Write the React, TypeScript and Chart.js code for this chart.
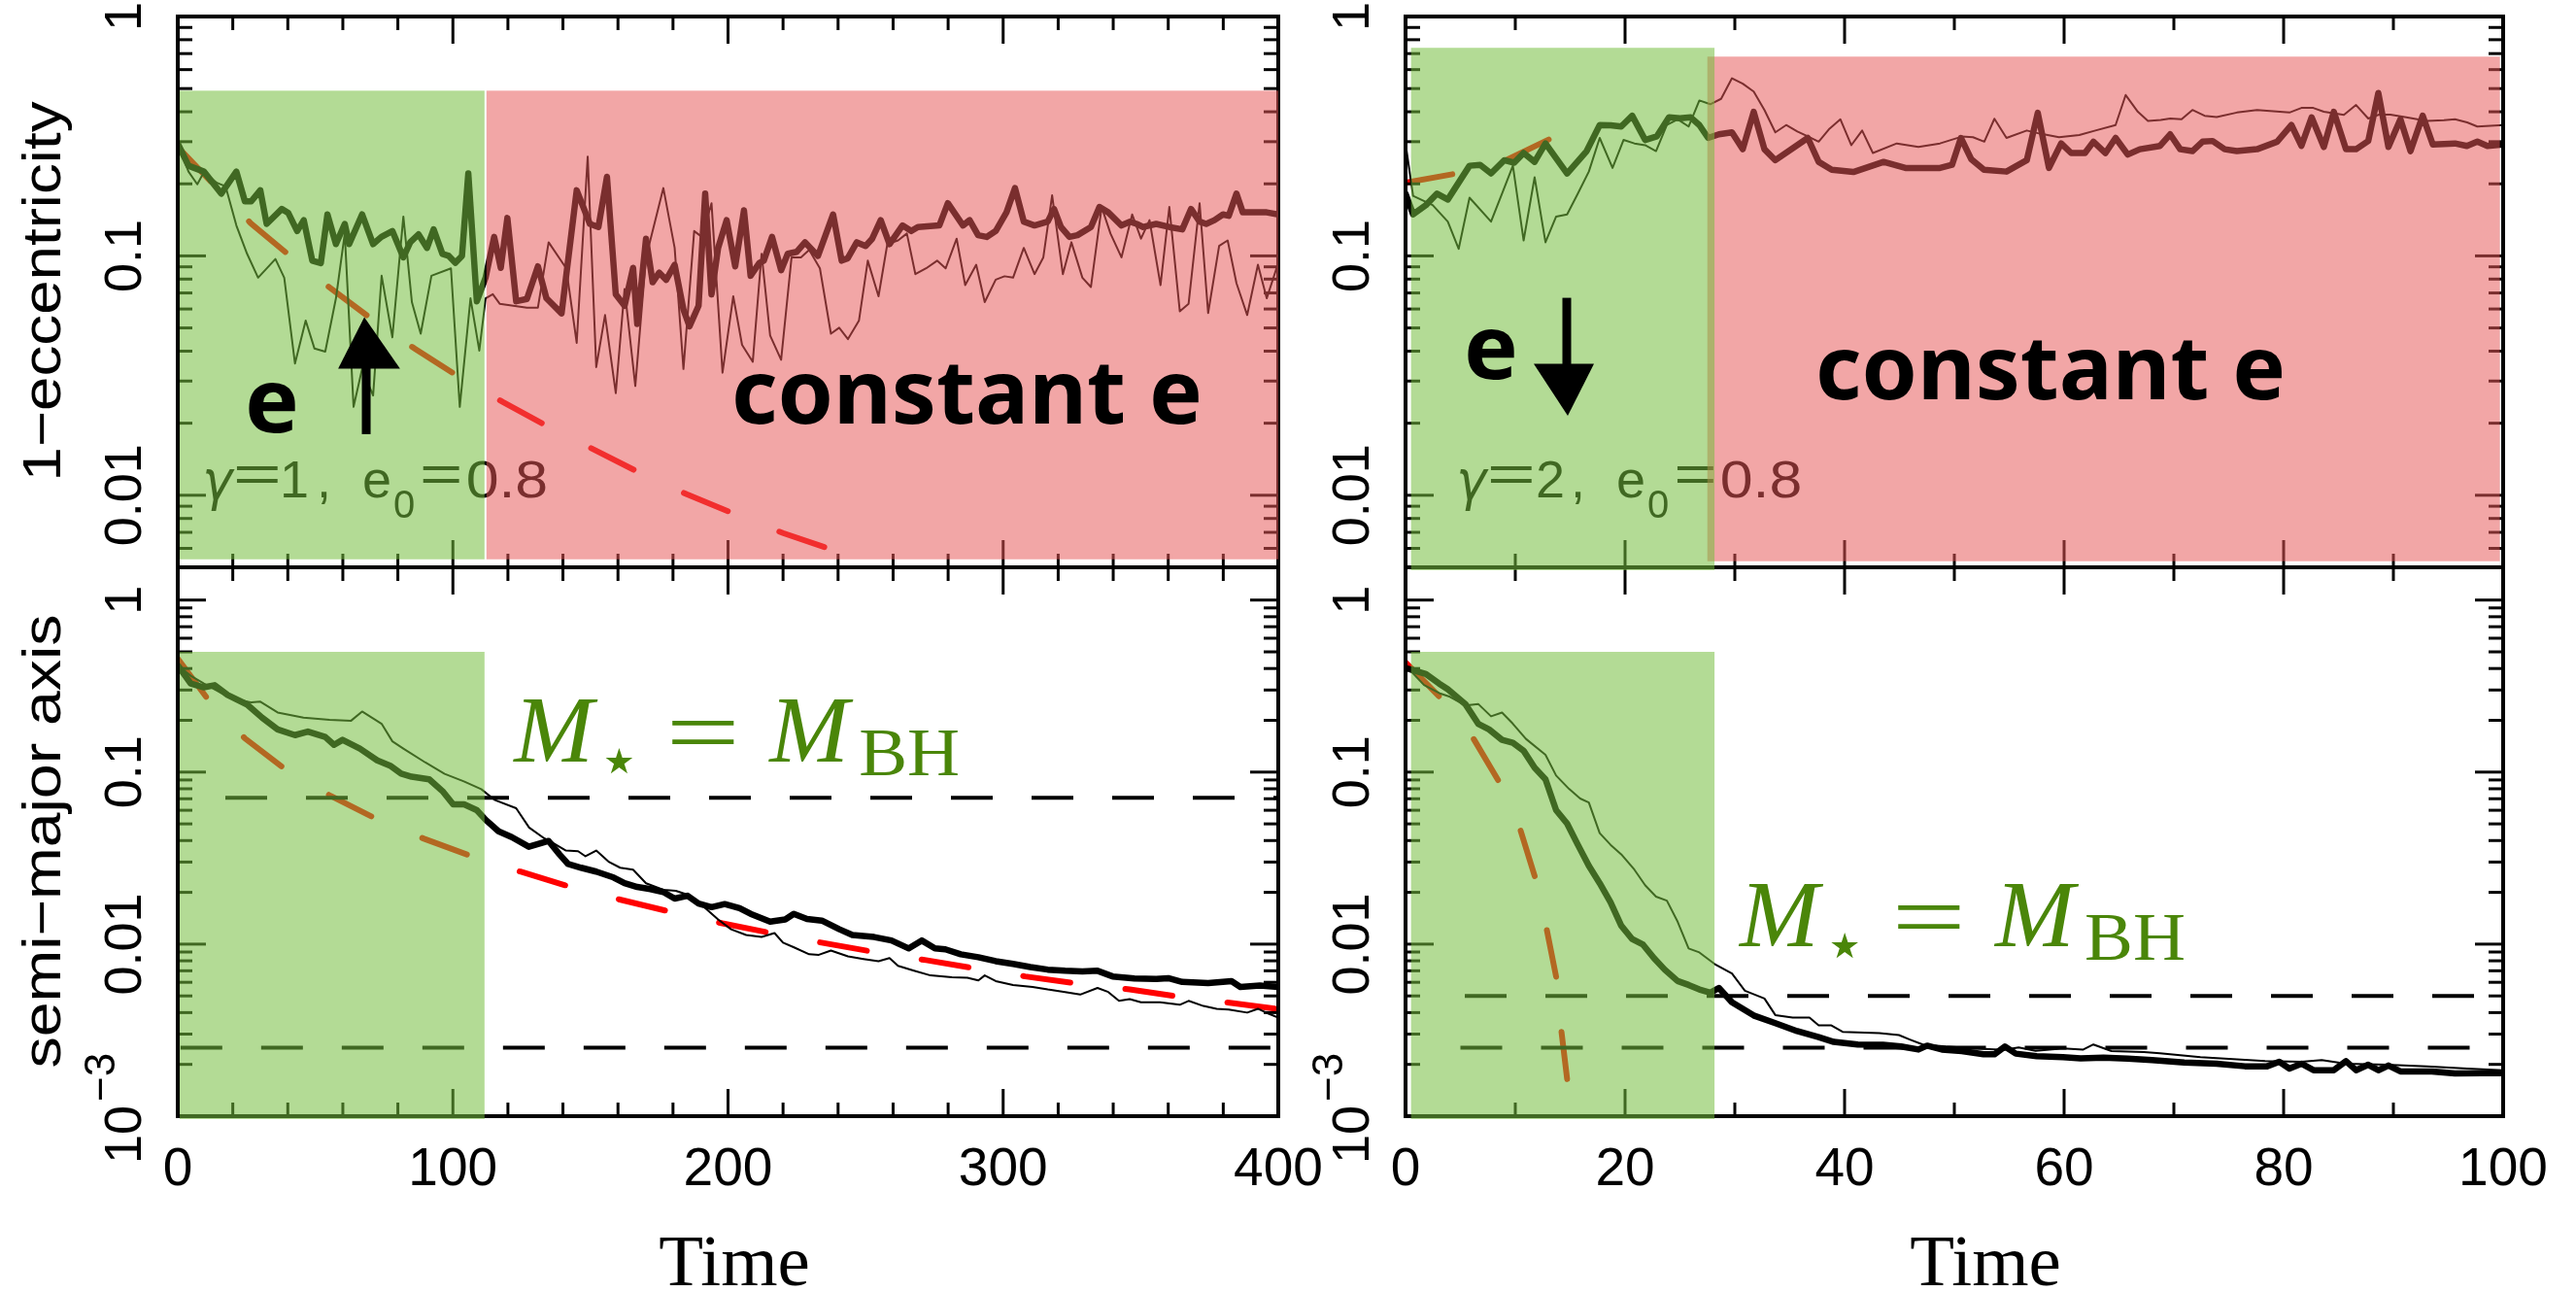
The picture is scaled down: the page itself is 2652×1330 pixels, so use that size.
import React, { useEffect, useRef } from "react";
import { Chart, registerables } from "chart.js";
Chart.register(...registerables);

type Pt = [number, number];

// ---------------- DATA (time, value) ----------------
// gamma=1 : 1-eccentricity
const ecc1Thick: Pt[] = [
  [0, 0.295], [3.9, 0.238], [9.5, 0.225], [15.8, 0.182], [21.3, 0.225], [24.4, 0.169], [26.7, 0.169], [30, 0.188],
  [32.3, 0.136], [37.8, 0.157], [40.2, 0.151], [43.4, 0.127], [45.8, 0.141], [48.9, 0.0955], [52, 0.0933], [54.4, 0.149],
  [57.5, 0.112], [60.7, 0.136], [62.3, 0.112], [67, 0.149], [71, 0.112], [74, 0.12], [78, 0.127], [82, 0.0986],
  [84.5, 0.114], [87.5, 0.123], [90.6, 0.108], [93, 0.129], [96.2, 0.102], [98.5, 0.1], [100.9, 0.0935], [103.3, 0.1],
  [105.6, 0.221], [108.7, 0.0646], [111.9, 0.0813], [115, 0.12], [117.4, 0.0891], [119.8, 0.144], [123, 0.0646],
  [126.9, 0.0661], [130.9, 0.0904], [134, 0.0665], [139.5, 0.0575], [145, 0.188], [149.8, 0.136], [152.9, 0.132],
  [156, 0.214], [159.2, 0.069], [162.4, 0.0619], [165.5, 0.0891], [167, 0.0519], [170.2, 0.118], [172.6, 0.0776],
  [175, 0.0851], [177.5, 0.0794], [180.6, 0.0918], [183.8, 0.0597], [186, 0.0508], [189.3, 0.0619], [191.7, 0.182],
  [194, 0.069], [196.4, 0.108], [199.5, 0.141], [202.6, 0.0904], [205.8, 0.155], [208.2, 0.0826], [211.4, 0.0935],
  [213, 0.0955], [216, 0.12], [219.3, 0.0871], [221.7, 0.102], [225, 0.104], [228, 0.114], [232.7, 0.1], [238.2, 0.149],
  [241.3, 0.0955], [243.5, 0.0977], [246.8, 0.114], [250, 0.11], [252.4, 0.118], [255.5, 0.141], [258.7, 0.112],
  [263.4, 0.134], [266.6, 0.127], [269, 0.132], [276.8, 0.134], [279.9, 0.166], [285.4, 0.134], [287.8, 0.141],
  [290.9, 0.122], [294, 0.12], [297.3, 0.127], [301.2, 0.152], [304.3, 0.192], [307.5, 0.139], [311.4, 0.134],
  [316.2, 0.139], [318.5, 0.157], [321, 0.132], [324.1, 0.12], [327, 0.122], [331.9, 0.132], [335, 0.16], [338.2, 0.152],
  [343, 0.134], [346.1, 0.139], [348.5, 0.136], [350.9, 0.132], [355.6, 0.136], [360.4, 0.132], [365.1, 0.129],
  [368.3, 0.157], [371.4, 0.139], [373.8, 0.136], [376.8, 0.141], [379.9, 0.149], [382, 0.147], [384.8, 0.182],
  [387.1, 0.152], [391.9, 0.152], [395.8, 0.152], [400, 0.149],
];
const ecc1Thin: Pt[] = [
  [0, 0.295], [3.9, 0.225], [7.1, 0.199], [9.5, 0.224], [14.2, 0.202], [17.4, 0.195], [21.3, 0.134], [25.2, 0.102],
  [29.2, 0.0811], [35.5, 0.097], [38.7, 0.0811], [42.6, 0.0355], [46.5, 0.0537], [49.7, 0.041], [53.6, 0.0398],
  [57.5, 0.0665], [60.7, 0.124], [63.9, 0.0234], [67, 0.0337], [71, 0.0261], [74.1, 0.0826], [78, 0.0457], [82, 0.146],
  [85.1, 0.0641], [88.3, 0.0473], [92.2, 0.0826], [99.3, 0.0887], [102.5, 0.0234], [106.4, 0.0665], [109.6, 0.0402],
  [111.9, 0.0665], [114.5, 0.0692], [117, 0.0631], [126.9, 0.0608], [130.9, 0.0608], [134.8, 0.114], [141.2, 0.0887],
  [145, 0.0433], [149, 0.26], [152.1, 0.0343], [155.3, 0.0566], [159.2, 0.0267], [162.4, 0.0728], [166.3, 0.0286],
  [170.2, 0.0986], [176.5, 0.192], [180.6, 0.108], [183.8, 0.0337], [187.7, 0.127], [190.5, 0.12], [194, 0.166],
  [198, 0.0325], [201.9, 0.0678], [205.1, 0.0425], [209, 0.0361], [212.2, 0.102], [215.3, 0.0465], [219.3, 0.0368],
  [223.1, 0.0986], [226.5, 0.0986], [229.5, 0.106], [233.4, 0.0887], [237.4, 0.0473], [240.4, 0.0501], [243.6, 0.0449],
  [247.6, 0.0537], [250.8, 0.0955], [254.7, 0.0678], [257.9, 0.112], [261.8, 0.116], [265, 0.124], [268.1, 0.0839],
  [272, 0.0887], [276, 0.0955], [279.1, 0.0887], [283.1, 0.118], [286.2, 0.0755], [290.2, 0.0918], [293.3, 0.0641],
  [297.3, 0.0796], [300.5, 0.0822], [303.6, 0.0811], [307.5, 0.108], [311.4, 0.0839], [314.6, 0.0986], [317.8, 0.179],
  [321.7, 0.0839], [324.8, 0.114], [328.8, 0.0811], [331.9, 0.0741], [335.8, 0.16], [339, 0.124], [343, 0.0986],
  [346.9, 0.149], [350.1, 0.118], [353.2, 0.141], [357.2, 0.0755], [360.4, 0.16], [364.2, 0.0587], [367.4, 0.0631],
  [371.4, 0.166], [374.5, 0.0577], [378.5, 0.11], [381.6, 0.116], [384.8, 0.0769], [388.7, 0.0566], [392.6, 0.0918],
  [395.8, 0.0665], [400, 0.0935],
];
const ecc1Model: Pt[] = [
  [0, 0.285], [26.5, 0.137], [41.3, 0.0989], [55.4, 0.0735], [71.2, 0.0537], [86.2, 0.0409], [102.5, 0.0311],
  [118.2, 0.0245], [135.5, 0.0191], [151.3, 0.0155], [168.6, 0.0123], [185, 0.0101], [203, 0.0083], [220, 0.00695],
  [239, 0.00586],
];
// gamma=1 : semi-major axis
const sma1Thick: Pt[] = [
  [0, 0.417], [4.7, 0.327], [9.5, 0.311], [13.4, 0.32], [18.1, 0.281], [25.2, 0.247], [30.7, 0.207], [36.3, 0.177],
  [42.6, 0.164], [47.3, 0.172], [53.6, 0.16], [56.8, 0.144], [59.9, 0.154], [66.2, 0.137], [72.5, 0.117], [77.2, 0.109],
  [81.2, 0.0979], [85, 0.094], [91.4, 0.0908], [96.2, 0.0776], [100.1, 0.0649], [104.1, 0.0649], [108.7, 0.0601],
  [111.9, 0.0528], [116.6, 0.0453], [121.4, 0.0419], [127.6, 0.0368], [134.8, 0.0398], [138.7, 0.0333], [141.9, 0.0292],
  [146.6, 0.0278], [152.1, 0.0264], [158.4, 0.0244], [162.4, 0.0226], [167, 0.0215], [171.8, 0.0209], [176.5, 0.0201],
  [180.6, 0.0184], [185.3, 0.0191], [189.3, 0.0172], [194, 0.0164], [198.8, 0.0171], [204.2, 0.0162], [208.2, 0.015],
  [215.3, 0.0135], [220.8, 0.0139], [223.9, 0.015], [228.7, 0.014], [234.1, 0.0137], [240.5, 0.0122], [245.2, 0.0113],
  [253.1, 0.011], [259.4, 0.0105], [265.7, 0.00944], [270.4, 0.0105], [275.2, 0.00944], [279, 0.00933], [284.6, 0.00873],
  [291, 0.00839], [297.3, 0.00796], [303.6, 0.00767], [309.9, 0.00736], [316.2, 0.00711], [322.5, 0.007], [328.8, 0.00693],
  [334.3, 0.007], [339.8, 0.00649], [347.7, 0.00632], [355.6, 0.00627], [360, 0.00634], [365.1, 0.00603], [374.5, 0.00593],
  [383, 0.0061], [386.2, 0.00564], [393.3, 0.00575], [400, 0.00564],
];
const sma1Thin: Pt[] = [
  [0, 0.417], [4.7, 0.363], [9.5, 0.327], [15.8, 0.288], [20.5, 0.267], [26.8, 0.254], [29.9, 0.257], [36.3, 0.222],
  [45.7, 0.207], [55.2, 0.201], [63, 0.199], [67, 0.225], [74.1, 0.191], [78, 0.151], [82, 0.137], [89.9, 0.114],
  [97, 0.0977], [104, 0.0883], [110.3, 0.0796], [115.1, 0.069], [123, 0.0617], [127.7, 0.0476], [133.2, 0.0412],
  [136.3, 0.0388], [141.1, 0.035], [145.5, 0.0347], [148.2, 0.0324], [152.1, 0.035], [156.8, 0.03], [160.8, 0.0278],
  [165.5, 0.0271], [170.2, 0.0226], [176.5, 0.0207], [181, 0.0204], [185.3, 0.0194], [190.1, 0.0171], [196.4, 0.0139],
  [201.1, 0.0122], [206.6, 0.0113], [212.2, 0.011], [216.9, 0.0116], [220, 0.0102], [224, 0.00957], [229.5, 0.00873],
  [233, 0.00867], [237.4, 0.00918], [243.6, 0.00849], [249.2, 0.0082], [254.7, 0.00796], [258.7, 0.0083], [261.8, 0.00748],
  [267.3, 0.00703], [273.6, 0.00658], [281.4, 0.00641], [287, 0.00637], [291, 0.00615], [293.3, 0.00658], [297.3, 0.0061],
  [303.6, 0.00579], [310.7, 0.00564], [316.2, 0.00545], [322.5, 0.00527], [328, 0.00509], [334.3, 0.00556], [338.2, 0.00527],
  [342.1, 0.00468], [346, 0.00479], [350.1, 0.00459], [357, 0.00459], [364.2, 0.00444], [367.4, 0.00468], [372.8, 0.00437],
  [377.6, 0.00421], [382, 0.00417], [388.7, 0.004], [392.6, 0.00421], [396.5, 0.00394], [400, 0.00374],
];
const sma1Model: Pt[] = [
  [0, 0.457], [11.8, 0.254], [24.4, 0.157], [39.7, 0.102], [55.5, 0.0728], [72.8, 0.0528], [89.5, 0.041], [108, 0.0319],
  [124.5, 0.0264], [143.7, 0.0213], [161, 0.0181], [180, 0.0153], [198, 0.0132], [216.8, 0.0115], [234, 0.0102],
  [254, 0.00895], [272, 0.00807], [291, 0.00718], [308, 0.00649], [328, 0.00587], [346, 0.00546], [365, 0.00492],
  [383, 0.00455], [400, 0.00419],
];
const sma1RefLevels = [0.0708, 0.0025];
const sma1RefStart = [17.3, 1];

// gamma=2 : 1-eccentricity
const ecc2Thick: Pt[] = [
  [0, 0.182], [0.69, 0.149], [1.86, 0.163], [2.87, 0.182], [3.85, 0.172], [5.83, 0.238], [6.8, 0.24], [7.79, 0.221],
  [8.99, 0.251], [9.9, 0.245], [10.76, 0.269], [11.76, 0.247], [12.75, 0.295], [14.72, 0.221], [16.5, 0.274],
  [17.69, 0.352], [18.7, 0.351], [19.65, 0.347], [20.65, 0.385], [21.83, 0.305], [22.9, 0.316], [24, 0.379], [25, 0.376],
  [25.98, 0.379], [26.77, 0.352], [27.57, 0.311], [28.55, 0.322], [29.74, 0.328], [30.72, 0.279], [31.72, 0.4],
  [32.7, 0.279], [33.69, 0.251], [36.65, 0.311], [37.64, 0.247], [38.83, 0.229], [40.8, 0.224], [43.56, 0.247],
  [45.55, 0.233], [48.69, 0.233], [49.79, 0.24], [50.6, 0.311], [51.55, 0.253], [52.7, 0.229], [54.75, 0.225],
  [56.6, 0.251], [57.6, 0.396], [58.62, 0.233], [59.73, 0.295], [60.64, 0.269], [61.9, 0.269], [62.67, 0.3],
  [63.77, 0.269], [64.69, 0.311], [65.8, 0.265], [66.9, 0.279], [68.74, 0.288], [69.66, 0.322], [70.58, 0.279],
  [71.69, 0.274], [72.61, 0.3], [73.53, 0.302], [74.63, 0.279], [75.74, 0.274], [77.58, 0.279], [79.41, 0.3],
  [80.71, 0.352], [81.62, 0.288], [82.55, 0.379], [83.66, 0.285], [84.57, 0.4], [85.68, 0.279], [86.6, 0.279],
  [87.71, 0.302], [88.63, 0.479], [89.55, 0.285], [90.64, 0.372], [91.56, 0.274], [92.67, 0.385], [93.59, 0.292],
  [95.61, 0.295], [96.7, 0.288], [97.65, 0.3], [98.56, 0.288], [100, 0.292],
];
const ecc2Thin: Pt[] = [
  [0, 0.295], [0.69, 0.178], [2.47, 0.163], [3.85, 0.139], [4.84, 0.107], [5.83, 0.175], [7.79, 0.139], [8.79, 0.182],
  [9.78, 0.238], [10.76, 0.116], [11.76, 0.213], [12.75, 0.114], [13.72, 0.146], [14.72, 0.149], [15.7, 0.182],
  [16.7, 0.225], [17.69, 0.311], [18.86, 0.233], [19.86, 0.305], [20.85, 0.295], [21.83, 0.29], [22.82, 0.274],
  [23.81, 0.352], [24.8, 0.372], [25.79, 0.347], [26.77, 0.446], [27.76, 0.43], [28.75, 0.453], [29.74, 0.552],
  [30.72, 0.524], [31.72, 0.486], [32.7, 0.407], [33.69, 0.328], [34.68, 0.352], [35.7, 0.331], [36.65, 0.316],
  [37.64, 0.3], [38.63, 0.34], [39.62, 0.372], [40.61, 0.29], [41.6, 0.334], [42.58, 0.269], [44.76, 0.295],
  [46.73, 0.285], [48.69, 0.295], [50.68, 0.315], [51.7, 0.313], [52.73, 0.3], [53.65, 0.374], [54.75, 0.311],
  [56.6, 0.334], [57.8, 0.324], [59.54, 0.313], [61.38, 0.32], [62.85, 0.334], [64.69, 0.352], [65.61, 0.47],
  [66.72, 0.4], [67.64, 0.366], [68.8, 0.37], [69.67, 0.375], [70.7, 0.372], [71.69, 0.407], [72.8, 0.385],
  [73.9, 0.38], [75.74, 0.397], [77.58, 0.407], [80.53, 0.397], [81.62, 0.415], [82.7, 0.415], [83.66, 0.4],
  [85.49, 0.388], [86.6, 0.427], [87.71, 0.375], [88.7, 0.389], [89.72, 0.389], [91.18, 0.379], [93.04, 0.366],
  [94.6, 0.369], [95.61, 0.372], [96.72, 0.361], [97.65, 0.347], [100, 0.352],
];
const ecc2Model: Pt[] = [[0, 0.202], [4.64, 0.221], [9.0, 0.249], [13.34, 0.311]];
// gamma=2 : semi-major axis
const sma2Thick: Pt[] = [
  [0, 0.403], [1.86, 0.372], [3.06, 0.327], [3.85, 0.303], [5.44, 0.249], [6.62, 0.191], [7.61, 0.177], [8.79, 0.154],
  [9.78, 0.148], [10.76, 0.133], [11.76, 0.106], [12.75, 0.0908], [13.72, 0.0601], [14.72, 0.0502], [15.7, 0.0378],
  [16.7, 0.0285], [17.69, 0.0226], [18.68, 0.0175], [19.65, 0.0128], [20.65, 0.0107], [21.64, 0.00993], [22.63, 0.0083],
  [23.61, 0.00711], [24.79, 0.0061], [25.79, 0.00579], [26.77, 0.00545], [27.76, 0.00522], [28.55, 0.00556],
  [29.74, 0.00459], [31.72, 0.00385], [33.69, 0.00347], [35.68, 0.00312], [37.64, 0.00288], [39.02, 0.0027],
  [41.2, 0.00261], [43.5, 0.0026], [45.15, 0.00254], [46.73, 0.00244], [47.52, 0.00257], [48.87, 0.00244],
  [50.68, 0.00239], [52.66, 0.00229], [53.65, 0.00229], [54.6, 0.00254], [55.6, 0.00231], [57.5, 0.00223],
  [59.9, 0.0022], [61.5, 0.00217], [63.59, 0.00219], [65.8, 0.00216], [68, 0.00212], [70.95, 0.00205], [73.89, 0.00202],
  [76.48, 0.00195], [78.5, 0.00195], [79.6, 0.00207], [80.53, 0.00189], [81.62, 0.00202], [82.73, 0.00185],
  [84.57, 0.00185], [85.68, 0.00209], [86.6, 0.00185], [87.71, 0.00199], [88.63, 0.00185], [89.55, 0.00197],
  [90.64, 0.00182], [93.5, 0.00182], [95.61, 0.00177], [98, 0.00178], [100, 0.00178],
];
const sma2Thin: Pt[] = [
  [0, 0.417], [1.68, 0.321], [3.06, 0.288], [4.05, 0.274], [5.44, 0.244], [6.62, 0.249], [7.79, 0.211], [8.79, 0.222],
  [9.78, 0.191], [10.97, 0.156], [12.75, 0.126], [13.72, 0.0955], [14.92, 0.0796], [15.91, 0.0702], [16.7, 0.0665],
  [17.69, 0.0442], [18.68, 0.0378], [19.65, 0.0333], [20.85, 0.0271], [21.83, 0.022], [22.82, 0.0189], [23.81, 0.0179],
  [24.79, 0.0135], [25.79, 0.00944], [26.77, 0.00895], [28.15, 0.00767], [29.74, 0.00675], [30.92, 0.00536],
  [32.7, 0.00483], [33.69, 0.00387], [35.27, 0.00374], [36.8, 0.00374], [37.64, 0.00337], [38.8, 0.00337],
  [39.82, 0.00309], [43.17, 0.00304], [44.95, 0.00296], [45.94, 0.00279], [47.13, 0.00261], [49.2, 0.00254],
  [51.87, 0.00248], [54.5, 0.00243], [55.86, 0.00251], [57.4, 0.0024], [59.9, 0.00248], [61.75, 0.00244],
  [62.67, 0.00261], [64.32, 0.00239], [67.28, 0.00236], [68.74, 0.00232], [72.42, 0.0022], [78.31, 0.00209],
  [81.62, 0.00207], [83.47, 0.00212], [85.68, 0.00202], [89.36, 0.00199], [93.04, 0.00195], [96.72, 0.00189],
  [100, 0.00185],
];
const sma2Model: Pt[] = [
  [0, 0.435], [3.26, 0.267], [6.1, 0.16], [8.6, 0.0861], [10.45, 0.0465], [11.86, 0.0238], [12.86, 0.0122],
  [13.8, 0.0061], [14.2, 0.00312], [14.76, 0.00157],
];
const sma2RefLevels = [0.005, 0.0025];
const sma2RefStart = [5.4, 5.0];

// ---------------- AXES / TICKS ----------------
const time1Major = [0, 100, 200, 300, 400];
const time1Minor = [20, 40, 60, 80, 120, 140, 160, 180, 220, 240, 260, 280, 320, 340, 360, 380];
const time1Labels = ["0", "100", "200", "300", "400"];
const time2Major = [0, 20, 40, 60, 80, 100];
const time2Minor = [10, 30, 50, 70, 90];
const time2Labels = ["0", "20", "40", "60", "80", "100"];
const eccTickValues = [1, 0.1, 0.01];
const eccTickLabels = ["1", "0.1", "0.01"];
const smaTickValues = [1, 0.1, 0.01, 0.001];
const smaTickLabels = ["1", "0.1", "0.01", "10|−3"];

const W = 2652;
const H = 1330;
const SANS = '"Liberation Sans", Arial, Helvetica, sans-serif';
const SERIF = '"Liberation Serif", "Times New Roman", serif';
const HAND = '"Noto Sans", "DejaVu Sans", sans-serif';
const GREEN_OV = "rgba(116,189,62,0.55)";
const RED_OV = "rgba(230,87,87,0.53)";
const TEXT_GREEN = "#4a8609";

function logMinor(min: number, max: number) {
  const out: number[] = [];
  for (let e = -4; e <= 1; e++) {
    for (let m = 2; m <= 9; m++) {
      const v = m * Math.pow(10, e);
      if (v > min * 1.0001 && v < max * 0.9999) out.push(v);
    }
  }
  return out;
}

function fitFill(ctx: CanvasRenderingContext2D, text: string, x: number, y: number, width: number) {
  const w = ctx.measureText(text).width;
  ctx.save();
  ctx.translate(x, y);
  ctx.scale(width / w, 1);
  ctx.textAlign = "left";
  ctx.fillText(text, 0, 0);
  ctx.restore();
}

// draw text so that its ink starts at x (and optionally spans inkW)
function inkFill(ctx: CanvasRenderingContext2D, text: string, x: number, y: number, inkW?: number) {
  const m = ctx.measureText(text);
  const ink = m.actualBoundingBoxLeft + m.actualBoundingBoxRight;
  const s = inkW ? inkW / ink : 1;
  ctx.save();
  ctx.translate(x, y);
  ctx.scale(s, 1);
  ctx.textAlign = "left";
  ctx.fillText(text, m.actualBoundingBoxLeft, 0);
  ctx.restore();
}

function rotText(ctx: CanvasRenderingContext2D, text: string, x: number, y: number, font: string, width?: number) {
  ctx.save();
  ctx.translate(x, y);
  ctx.rotate(-Math.PI / 2);
  ctx.font = font;
  ctx.textAlign = "center";
  ctx.textBaseline = "alphabetic";
  if (width) {
    const w = ctx.measureText(text).width;
    ctx.scale(width / w, 1);
  }
  ctx.fillText(text, 0, 0);
  ctx.restore();
}

function rotPow(ctx: CanvasRenderingContext2D, base: string, exp: string, x: number, y: number) {
  ctx.save();
  ctx.translate(x, y);
  ctx.rotate(-Math.PI / 2);
  ctx.textBaseline = "alphabetic";
  ctx.textAlign = "left";
  const fb = `54px ${SANS}`;
  const fe = `44px ${SANS}`;
  ctx.font = fb;
  const wb = ctx.measureText(base).width;
  ctx.font = fe;
  const we = ctx.measureText(exp).width;
  const total = wb + 4 + we;
  const start = -total / 2;
  ctx.font = fb;
  ctx.fillText(base, start, 0);
  ctx.font = fe;
  ctx.fillText(exp, start + wb + 4, -27);
  ctx.restore();
}

function drawGamma(ctx: CanvasRenderingContext2D, x0: number, y0: number, g: string) {
  ctx.fillStyle = "#000";
  ctx.textBaseline = "alphabetic";
  const f1 = `54px ${SANS}`;
  ctx.font = `italic 56px "DejaVu Sans", sans-serif`;
  inkFill(ctx, "γ", x0, y0 + 2, 30);
  ctx.font = f1;
  inkFill(ctx, "=", x0 + 31, y0 - 6, 43);
  inkFill(ctx, g, x0 + 80, y0);
  inkFill(ctx, ",", x0 + 118, y0);
  inkFill(ctx, "e", x0 + 163, y0);
  ctx.font = `40px ${SANS}`;
  inkFill(ctx, "0", x0 + 194, y0 + 21);
  ctx.font = f1;
  inkFill(ctx, "=", x0 + 223, y0 - 6, 38);
  inkFill(ctx, "0.8", x0 + 270, y0, 80);
}

function drawMstar(ctx: CanvasRenderingContext2D, x0: number, y0: number) {
  ctx.fillStyle = TEXT_GREEN;
  ctx.textBaseline = "alphabetic";
  ctx.textAlign = "left";
  ctx.font = `italic 98px ${SERIF}`;
  ctx.fillText("M", x0, y0);
  ctx.font = `36px "DejaVu Sans", sans-serif`;
  ctx.fillText("★", x0 + 92, y0 + 12);
  ctx.font = `98px ${SERIF}`;
  const m = ctx.measureText("=");
  const ink = m.actualBoundingBoxLeft + m.actualBoundingBoxRight;
  ctx.save();
  ctx.translate(x0 + 162, y0 + 2);
  ctx.scale(65 / ink, 1);
  ctx.fillText("=", m.actualBoundingBoxLeft, 0);
  ctx.restore();
  ctx.font = `italic 98px ${SERIF}`;
  ctx.fillText("M", x0 + 263, y0);
  ctx.font = `70px ${SERIF}`;
  fitFill(ctx, "BH", x0 + 355, y0 + 14, 104);
}

function drawHand(ctx: CanvasRenderingContext2D, text: string, x: number, y: number, width: number) {
  ctx.fillStyle = "#000";
  ctx.font = `bold 92px ${HAND}`;
  ctx.textBaseline = "alphabetic";
  fitFill(ctx, text, x, y, width);
}

type XF = (v: number) => number;

interface RectSpec { x0: number; x1: number; y0: number | null; y1: number; color: string }

interface PanelSpec {
  id: string;
  area: { left: number; top: number; right: number; bottom: number };
  xMin: number; xMax: number; yMin: number; yMax: number;
  xMajor: number[]; xMinor: number[]; xLabels: string[] | null;
  yTicks: number[]; yLabels: string[];
  yTitle?: { text: string; y: number; width: number };
  xTitle?: { x: number };
  datasets: any[];
  rects: RectSpec[];
  under?: (ctx: CanvasRenderingContext2D, X: XF, Y: XF) => void;
  over?: (ctx: CanvasRenderingContext2D, X: XF, Y: XF) => void;
}

const toXY = (pts: Pt[]) => pts.map(([x, y]) => ({ x, y }));

function lineSet(pts: Pt[], kind: "thick" | "thin" | "model") {
  if (kind === "model") {
    return {
      data: toXY(pts), borderColor: "#ff0000", borderWidth: 6, borderDash: [49, 57],
      borderCapStyle: "round", pointRadius: 0, tension: 0, fill: false,
    };
  }
  return {
    data: toXY(pts), borderColor: "#000", borderWidth: kind === "thick" ? 6.5 : 2,
    borderJoinStyle: "round", borderCapStyle: "round", pointRadius: 0, tension: 0, fill: false,
  };
}

function refSets(levels: number[], starts: number[], xMax: number) {
  return levels.map((lv, i) => ({
    data: [{ x: starts[i], y: lv }, { x: xMax, y: lv }],
    borderColor: "#000", borderWidth: 4, borderDash: [43, 40], borderCapStyle: "butt",
    pointRadius: 0, tension: 0, fill: false,
  }));
}

function arrowUp(ctx: CanvasRenderingContext2D, X: XF, Y: XF) {
  ctx.fillStyle = "#000";
  ctx.beginPath();
  ctx.moveTo(X(67.8), Y(0.0555));
  ctx.lineTo(X(80.8), Y(0.0338));
  ctx.lineTo(X(58.3), Y(0.0338));
  ctx.closePath();
  ctx.fill();
  const sx = X(68.5);
  ctx.fillRect(sx - 4.5, Y(0.0338) - 2, 9, Y(0.018) - Y(0.0338) + 2);
}

function arrowDown(ctx: CanvasRenderingContext2D, X: XF, Y: XF) {
  ctx.fillStyle = "#000";
  ctx.beginPath();
  ctx.moveTo(X(11.68), Y(0.0354));
  ctx.lineTo(X(17.17), Y(0.0354));
  ctx.lineTo(X(14.78), Y(0.0215));
  ctx.closePath();
  ctx.fill();
  const sx = X(14.69);
  ctx.fillRect(sx - 4.5, Y(0.0668), 9, Y(0.0354) - Y(0.0668) + 2);
}

const LEFT = { left: 183, right: 1316 };
const RIGHT = { left: 1447, right: 2577 };
const TOPROW = { top: 17, bottom: 584 };
const BOTROW = { top: 584, bottom: 1149 };

const panels: PanelSpec[] = [
  {
    id: "bl",
    area: { ...LEFT, ...BOTROW },
    xMin: 0, xMax: 400, yMin: 0.001, yMax: 1.55,
    xMajor: time1Major, xMinor: time1Minor, xLabels: time1Labels,
    yTicks: smaTickValues, yLabels: smaTickLabels,
    yTitle: { text: "semi−major axis", y: 866, width: 467 },
    xTitle: { x: 756 },
    datasets: [
      ...refSets(sma1RefLevels, sma1RefStart, 400),
      lineSet(sma1Thin, "thin"), lineSet(sma1Thick, "thick"), lineSet(sma1Model, "model"),
    ],
    rects: [{ x0: 0.7, x1: 111.5, y0: null, y1: 0.5, color: GREEN_OV }],
    over: (ctx, X, Y) => drawMstar(ctx, X(122.2), Y(0.1147)),
  },
  {
    id: "br",
    area: { ...RIGHT, ...BOTROW },
    xMin: 0, xMax: 100, yMin: 0.001, yMax: 1.55,
    xMajor: time2Major, xMinor: time2Minor, xLabels: time2Labels,
    yTicks: smaTickValues, yLabels: smaTickLabels,
    xTitle: { x: 2044 },
    datasets: [
      ...refSets(sma2RefLevels, sma2RefStart, 100),
      lineSet(sma2Thin, "thin"), lineSet(sma2Thick, "thick"), lineSet(sma2Model, "model"),
    ],
    rects: [{ x0: 0.5, x1: 28.15, y0: null, y1: 0.5, color: GREEN_OV }],
    over: (ctx, X, Y) => drawMstar(ctx, X(30.44), Y(0.00968)),
  },
  {
    id: "tl",
    area: { ...LEFT, ...TOPROW },
    xMin: 0, xMax: 400, yMin: 0.005, yMax: 1,
    xMajor: time1Major, xMinor: time1Minor, xLabels: null,
    yTicks: eccTickValues, yLabels: eccTickLabels,
    yTitle: { text: "1−eccentricity", y: 300, width: 391 },
    datasets: [lineSet(ecc1Thin, "thin"), lineSet(ecc1Thick, "thick"), lineSet(ecc1Model, "model")],
    rects: [
      { x0: 0.7, x1: 111.5, y0: 0.0054, y1: 0.49, color: GREEN_OV },
      { x0: 112.2, x1: 400, y0: 0.0054, y1: 0.49, color: RED_OV },
    ],
    under: (ctx, X, Y) => drawGamma(ctx, X(10.2), Y(0.0098), "1"),
    over: (ctx, X, Y) => {
      drawHand(ctx, "e", X(24.4), Y(0.0184), 56);
      arrowUp(ctx, X, Y);
      drawHand(ctx, "constant e", X(201.2), Y(0.02), 485);
    },
  },
  {
    id: "tr",
    area: { ...RIGHT, ...TOPROW },
    xMin: 0, xMax: 100, yMin: 0.005, yMax: 1,
    xMajor: time2Major, xMinor: time2Minor, xLabels: null,
    yTicks: eccTickValues, yLabels: eccTickLabels,
    datasets: [lineSet(ecc2Thin, "thin"), lineSet(ecc2Thick, "thick"), lineSet(ecc2Model, "model")],
    rects: [
      { x0: 27.5, x1: 99.7, y0: 0.0053, y1: 0.68, color: RED_OV },
      { x0: 0.5, x1: 28.15, y0: null, y1: 0.74, color: GREEN_OV },
    ],
    under: (ctx, X, Y) => drawGamma(ctx, X(4.96), Y(0.0098), "2"),
    over: (ctx, X, Y) => {
      drawHand(ctx, "e", X(5.31), Y(0.0307), 56);
      arrowDown(ctx, X, Y);
      drawHand(ctx, "constant e", X(37.35), Y(0.0252), 484);
    },
  },
];

function makePlugin(spec: PanelSpec) {
  return {
    id: "panel_" + spec.id,
    afterDraw(chart: any) {
      const ctx = chart.ctx as CanvasRenderingContext2D;
      const { left, right, top, bottom } = chart.chartArea;
      const xs = chart.scales.x;
      const ys = chart.scales.y;
      const X = (v: number) => xs.getPixelForValue(v);
      const Y = (v: number) => ys.getPixelForValue(v);
      ctx.save();
      ctx.strokeStyle = "#000";
      ctx.lineCap = "butt";
      ctx.lineWidth = 3;
      const seg = (x1: number, y1: number, x2: number, y2: number) => {
        ctx.beginPath();
        ctx.moveTo(x1, y1);
        ctx.lineTo(x2, y2);
        ctx.stroke();
      };
      for (const v of spec.xMajor) { const p = X(v); seg(p, top, p, top + 28); seg(p, bottom, p, bottom - 28); }
      for (const v of spec.xMinor) { const p = X(v); seg(p, top, p, top + 14); seg(p, bottom, p, bottom - 14); }
      for (const v of spec.yTicks) { const p = Y(v); seg(left, p, left + 29, p); seg(right, p, right - 29, p); }
      for (const v of logMinor(spec.yMin, spec.yMax)) { const p = Y(v); seg(left, p, left + 15, p); seg(right, p, right - 15, p); }
      ctx.lineWidth = 4;
      ctx.strokeRect(left, top, right - left, bottom - top);

      if (spec.under) spec.under(ctx, X, Y);

      for (const r of spec.rects) {
        const x0 = X(r.x0);
        const x1 = X(r.x1);
        const yb = r.y0 === null ? bottom + 3 : Y(r.y0);
        const yt = Y(r.y1);
        ctx.fillStyle = r.color;
        ctx.fillRect(x0, yt, x1 - x0, yb - yt);
      }

      if (spec.over) spec.over(ctx, X, Y);

      // tick labels
      ctx.fillStyle = "#000";
      spec.yTicks.forEach((v, i) => {
        const lab = spec.yLabels[i];
        const p = Y(v);
        if (lab.includes("|")) {
          const [b, e] = lab.split("|");
          rotPow(ctx, b, e, left - 38, p - 8);
        } else {
          rotText(ctx, lab, left - 38, p, `54px ${SANS}`);
        }
      });
      if (spec.xLabels) {
        ctx.font = `55px ${SANS}`;
        ctx.textAlign = "center";
        ctx.textBaseline = "alphabetic";
        spec.xMajor.forEach((v, i) => {
          ctx.fillText(spec.xLabels![i], X(v), 1220);
        });
      }
      if (spec.yTitle) {
        rotText(ctx, spec.yTitle.text, 62, spec.yTitle.y, `56px ${SANS}`, spec.yTitle.width);
      }
      if (spec.xTitle) {
        ctx.font = `75px ${SERIF}`;
        ctx.textAlign = "center";
        ctx.textBaseline = "alphabetic";
        ctx.fillText("Time", spec.xTitle.x, 1323);
      }
      ctx.restore();
    },
  };
}

export default function App() {
  const refs = useRef<(HTMLCanvasElement | null)[]>([]);

  useEffect(() => {
    document.body.style.margin = "0";
    document.body.style.overflow = "hidden";
    document.body.style.background = "#fff";
    const charts: Chart[] = [];
    panels.forEach((spec, i) => {
      const cv = refs.current[i];
      if (!cv) return;
      const a = spec.area;
      const ch = new Chart(cv, {
        type: "line",
        data: { datasets: spec.datasets },
        options: {
          responsive: false,
          animation: false,
          devicePixelRatio: 1,
          events: [],
          layout: { padding: { left: a.left, top: a.top, right: W - a.right, bottom: H - a.bottom } },
          plugins: { legend: { display: false }, tooltip: { enabled: false }, title: { display: false } },
          scales: {
            x: { type: "linear", min: spec.xMin, max: spec.xMax, display: false },
            y: { type: "logarithmic", min: spec.yMin, max: spec.yMax, display: false },
          },
        } as any,
        plugins: [makePlugin(spec)],
      } as any);
      charts.push(ch);
    });
    return () => charts.forEach((c) => c.destroy());
  }, []);

  return (
    <div style={{ position: "relative", width: W, height: H, background: "#fff", overflow: "hidden" }}>
      {panels.map((p, i) => (
        <canvas
          key={p.id}
          ref={(el) => { refs.current[i] = el; }}
          width={W}
          height={H}
          style={{ position: "absolute", left: 0, top: 0, width: W, height: H }}
        />
      ))}
    </div>
  );
}
